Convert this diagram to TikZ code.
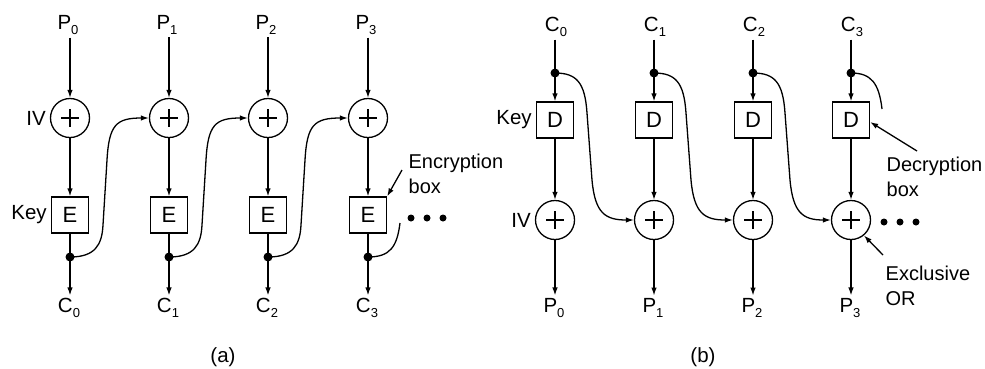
\documentclass[tikz,border=0pt]{standalone}
\usepackage{fontspec}
\setmainfont{Liberation Sans}
\usetikzlibrary{arrows.meta,calc}
\newcommand\subs[1]{\raisebox{-4.5pt}{\fontsize{13}{13}\selectfont #1}}
\begin{document}
\begin{tikzpicture}[x=1pt,y=-1pt,line width=1.3pt,
  lbl/.style={font=\fontsize{20.5}{25}\selectfont, inner sep=2.5pt},
  note/.style={font=\fontsize{20}{25}\selectfont, inner sep=0pt, align=left},
  xorc/.style={circle, draw, minimum size=39pt, inner sep=0pt,
    path picture={\draw[line width=1.5pt] (path picture bounding box.center) +(-9,0) -- +(9,0) +(0,-9) -- +(0,9);}},
  cbox/.style={draw, minimum width=37pt, minimum height=36pt, inner sep=0pt, font=\fontsize{22}{22}\selectfont},
  jdot/.style={circle, fill, inner sep=0pt, minimum size=9pt},
  arr/.style={-{Latex[length=8pt,width=5.5pt]}},
  ell/.style={circle, fill, inner sep=0pt, minimum size=7pt}]
\useasboundingbox (0,0) rectangle (985,368);

% ---------------- (a) encryption ----------------
\foreach \i/\X in {0/70,1/169,2/268,3/368}{
  \node[lbl] (pa\i) at (\X-2,25) {P\subs{\i}};
  \node[xorc] (xa\i) at (\X,118) {};
  \node[cbox] (ea\i) at (\X,215) {E};
  \node[jdot] (da\i) at (\X,257) {};
  \node[lbl] (ca\i) at (\X-1,308) {C\subs{\i}};
  \draw[arr] (pa\i.south -| xa\i) -- (xa\i.north);
  \draw[arr] (xa\i.south) -- (ea\i.north);
  \draw[arr] (ea\i.south) -- (ca\i.north -| ea\i);
}
\node[lbl, anchor=east] (iva) at ([xshift=-1pt]xa0.west) {IV};
\node[lbl, anchor=east] (keya) at ([xshift=-1pt]ea0.west) {Key};
\foreach \i/\j in {0/1,1/2,2/3}{
  \draw[arr] (da\i.center) .. controls ($(da\i)+(25,0)$) and ($(da\i)+(32,-12)$) ..
    ($(da\i)+(33,-32)$) -- ($(da\i)+(37,-97)$)
    .. controls ($(da\i)+(39,-132)$) and ($(da\i)+(46,-139)$) .. (xa\j.west);
}
\coordinate (enda) at ($(da3)+(32,-34)$);
\draw (da3.center) .. controls ($(da3)+(22,0)$) and ($(da3)+(29,-10)$) .. (enda);
\node[ell] (ea1d) at (411,218) {};
\node[ell] (ea2d) at (427,218) {};
\node[ell] (ea3d) at (443,218) {};
\node[note, anchor=north west] (enc) at (408,153) {Encryption\\box};
\coordinate (enct) at (402,170);
\draw[arr] (enct) -- (ea3.north east);
\node[lbl] (capa) at (223,357) {(a)};

% ---------------- (b) decryption ----------------
\foreach \i/\X in {0/555,1/654,2/753,3/851}{
  \node[lbl] (cb\i) at (\X+1,27) {C\subs{\i}};
  \node[jdot] (db\i) at (\X,73) {};
  \node[cbox] (Db\i) at (\X,120) {D};
  \node[xorc] (xb\i) at (\X,220) {};
  \node[lbl] (pb\i) at (\X-1,308) {P\subs{\i}};
  \draw[arr] (cb\i.south -| Db\i) -- (Db\i.north);
  \draw[arr] (Db\i.south) -- (xb\i.north);
  \draw[arr] (xb\i.south) -- (pb\i.north -| xb\i);
}
\node[lbl, anchor=east] (ivb) at ([xshift=-1pt]xb0.west) {IV};
\node[lbl, anchor=east] (keyb) at ([xshift=-1pt]Db0.west) {Key};
\foreach \i/\j in {0/1,1/2,2/3}{
  \draw[arr] (db\i.center) .. controls ($(db\i)+(22,0)$) and ($(db\i)+(30,10)$) ..
    ($(db\i)+(32,40)$) -- ($(db\i)+(37,107)$)
    .. controls ($(db\i)+(40,140)$) and ($(db\i)+(50,147)$) .. (xb\j.west);
}
\coordinate (endb) at ($(db3)+(31,36)$);
\draw (db3.center) .. controls ($(db3)+(20,0)$) and ($(db3)+(28,10)$) .. (endb);
\node[ell] (eb1d) at (884,222) {};
\node[ell] (eb2d) at (900,222) {};
\node[ell] (eb3d) at (916,222) {};
\node[note, anchor=north west] (dec) at (886,156) {Decryption\\box};
\coordinate (dect) at (917,151);
\draw[arr] (dect) -- ([yshift=-2pt]Db3.east);
\node[note, anchor=north west] (xorl) at (885,265) {Exclusive\\OR};
\coordinate (xort) at (883,255);
\draw[arr] (xort) -- (xb3.-50);
\node[lbl] (capb) at (703,357) {(b)};
\end{tikzpicture}
\end{document}
